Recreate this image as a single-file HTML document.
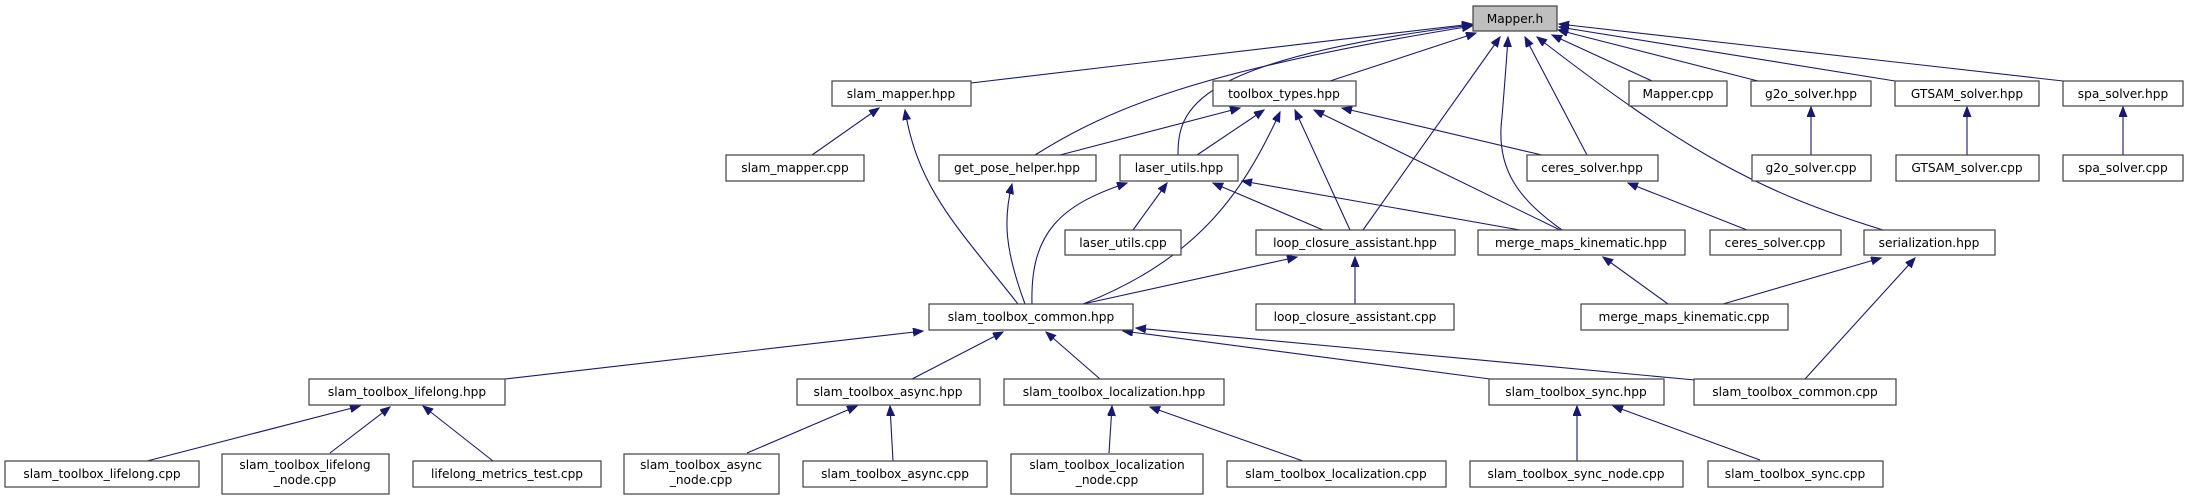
<!DOCTYPE html>
<html><head><meta charset="utf-8"><style>
html,body{margin:0;padding:0;background:#fff;}
svg{display:block;}
text{font-family:"DejaVu Sans","Liberation Sans",sans-serif;font-size:12.2px;fill:#000;text-anchor:middle;}
.b{fill:#fff;stroke:#404040;stroke-width:1.2;}
.e{fill:none;stroke:#191970;stroke-width:1.1;}
</style></head><body>
<svg width="2188" height="500" viewBox="0 0 2188 500" xmlns="http://www.w3.org/2000/svg">
<defs>
<marker id="a" markerUnits="userSpaceOnUse" markerWidth="12" markerHeight="10" refX="10" refY="4" orient="auto">
<path d="M0,0 L10,4 L0,8 Z" fill="#191970" stroke="#191970" stroke-width="1"/>
</marker>
</defs>
<g class="edges">
<!-- to Mapper.h -->
<path class="e" marker-end="url(#a)" d="M971,83 L1472,24"/>
<path class="e" marker-end="url(#a)" d="M1035,155 C1110,108 1200,70 1472,26"/>
<path class="e" marker-end="url(#a)" d="M1178,155 C1178,110 1190,60 1472,25"/>
<path class="e" marker-end="url(#a)" d="M1330,81 L1476,33"/>
<path class="e" marker-end="url(#a)" d="M1363,230 L1500,37"/>
<path class="e" marker-end="url(#a)" d="M1562,230 C1520,200 1495,170 1502,117 C1505,80 1507,55 1508,37"/>
<path class="e" marker-end="url(#a)" d="M1587,155 L1525,37"/>
<path class="e" marker-end="url(#a)" d="M1883,230 C1760,192 1687,153 1537,37"/>
<path class="e" marker-end="url(#a)" d="M1652,81 L1552,35"/>
<path class="e" marker-end="url(#a)" d="M1758,81 L1558,30"/>
<path class="e" marker-end="url(#a)" d="M1895,81 L1559,27"/>
<path class="e" marker-end="url(#a)" d="M2063,81 L1559,24"/>
<!-- to toolbox_types.hpp -->
<path class="e" marker-end="url(#a)" d="M1060,155 L1240,108"/>
<path class="e" marker-end="url(#a)" d="M1197,155 L1264,110"/>
<path class="e" marker-end="url(#a)" d="M1083,304 C1193,260 1240,200 1280,112"/>
<path class="e" marker-end="url(#a)" d="M1350,230 L1295,110"/>
<path class="e" marker-end="url(#a)" d="M1560,230 L1314,110"/>
<path class="e" marker-end="url(#a)" d="M1542,155 L1342,108"/>
<!-- to laser_utils.hpp -->
<path class="e" marker-end="url(#a)" d="M1133,230 L1167,183"/>
<path class="e" marker-end="url(#a)" d="M1032,304 C1030,233 1060,205 1127,183"/>
<path class="e" marker-end="url(#a)" d="M1323,230 L1213,183"/>
<path class="e" marker-end="url(#a)" d="M1520,230 L1242,181"/>
<!-- slam_mapper.hpp -->
<path class="e" marker-end="url(#a)" d="M812,155 L879,108"/>
<path class="e" marker-end="url(#a)" d="M1018,304 C960,230 918,190 905,110"/>
<!-- get_pose_helper -->
<path class="e" marker-end="url(#a)" d="M1025,304 C1005,250 1003,220 1012,184"/>
<!-- loop_closure_assistant.hpp -->
<path class="e" marker-end="url(#a)" d="M1083,304 L1297,257"/>
<path class="e" marker-end="url(#a)" d="M1355,304 L1355,257"/>
<!-- merge_maps / ceres / serialization / solvers -->
<path class="e" marker-end="url(#a)" d="M1668,304 L1603,257"/>
<path class="e" marker-end="url(#a)" d="M1747,230 L1628,183"/>
<path class="e" marker-end="url(#a)" d="M1723,304 L1881,258"/>
<path class="e" marker-end="url(#a)" d="M1805,379 L1915,258"/>
<path class="e" marker-end="url(#a)" d="M1811,155 L1811,107"/>
<path class="e" marker-end="url(#a)" d="M1967,155 L1967,107"/>
<path class="e" marker-end="url(#a)" d="M2123,155 L2123,107"/>
<!-- to slam_toolbox_common.hpp -->
<path class="e" marker-end="url(#a)" d="M505,379 L923,331"/>
<path class="e" marker-end="url(#a)" d="M912,379 L1003,332"/>
<path class="e" marker-end="url(#a)" d="M1100,379 L1046,332"/>
<path class="e" marker-end="url(#a)" d="M1490,379 L1123,331"/>
<path class="e" marker-end="url(#a)" d="M1695,380 L1136,328"/>
<!-- bottom -->
<path class="e" marker-end="url(#a)" d="M147,461 L360,406"/>
<path class="e" marker-end="url(#a)" d="M330,453 L390,407"/>
<path class="e" marker-end="url(#a)" d="M493,461 L423,406"/>
<path class="e" marker-end="url(#a)" d="M747,453 L857,406"/>
<path class="e" marker-end="url(#a)" d="M893,461 L890,406"/>
<path class="e" marker-end="url(#a)" d="M1109,453 L1112,406"/>
<path class="e" marker-end="url(#a)" d="M1303,461 L1150,407"/>
<path class="e" marker-end="url(#a)" d="M1577,461 L1577,406"/>
<path class="e" marker-end="url(#a)" d="M1760,460 L1613,406"/>
</g>
<g class="nodes">
<rect x="1473" y="6" width="84" height="25" fill="#bfbfbf" stroke="#404040" stroke-width="1.2"/><text x="1515" y="23">Mapper.h</text>

<rect class="b" x="832" y="81" width="139" height="25"/><text x="901" y="98">slam_mapper.hpp</text>
<rect class="b" x="1213" y="81" width="143" height="25"/><text x="1284" y="98">toolbox_types.hpp</text>
<rect class="b" x="1629" y="81" width="98" height="25"/><text x="1678" y="98">Mapper.cpp</text>
<rect class="b" x="1751" y="81" width="120" height="25"/><text x="1811" y="98">g2o_solver.hpp</text>
<rect class="b" x="1895" y="81" width="144" height="25"/><text x="1967" y="98">GTSAM_solver.hpp</text>
<rect class="b" x="2063" y="81" width="120" height="25"/><text x="2123" y="98">spa_solver.hpp</text>

<rect class="b" x="726" y="155" width="138" height="26"/><text x="795" y="172">slam_mapper.cpp</text>
<rect class="b" x="939" y="155" width="157" height="26"/><text x="1017" y="172">get_pose_helper.hpp</text>
<rect class="b" x="1120" y="155" width="118" height="26"/><text x="1179" y="172">laser_utils.hpp</text>
<rect class="b" x="1527" y="155" width="131" height="26"/><text x="1592" y="172">ceres_solver.hpp</text>
<rect class="b" x="1752" y="155" width="119" height="26"/><text x="1811" y="172">g2o_solver.cpp</text>
<rect class="b" x="1896" y="155" width="143" height="26"/><text x="1967" y="172">GTSAM_solver.cpp</text>
<rect class="b" x="2063" y="155" width="120" height="26"/><text x="2123" y="172">spa_solver.cpp</text>

<rect class="b" x="1065" y="230" width="116" height="25"/><text x="1123" y="247">laser_utils.cpp</text>
<rect class="b" x="1256" y="230" width="199" height="25"/><text x="1355" y="247">loop_closure_assistant.hpp</text>
<rect class="b" x="1478" y="230" width="207" height="25"/><text x="1581" y="247">merge_maps_kinematic.hpp</text>
<rect class="b" x="1710" y="230" width="131" height="25"/><text x="1775" y="247">ceres_solver.cpp</text>
<rect class="b" x="1864" y="230" width="131" height="25"/><text x="1929" y="247">serialization.hpp</text>

<rect class="b" x="929" y="304" width="204" height="26"/><text x="1031" y="321">slam_toolbox_common.hpp</text>
<rect class="b" x="1256" y="304" width="198" height="26"/><text x="1355" y="321">loop_closure_assistant.cpp</text>
<rect class="b" x="1581" y="304" width="207" height="26"/><text x="1684" y="321">merge_maps_kinematic.cpp</text>

<rect class="b" x="309" y="379" width="196" height="26"/><text x="407" y="396">slam_toolbox_lifelong.hpp</text>
<rect class="b" x="797" y="379" width="183" height="26"/><text x="888" y="396">slam_toolbox_async.hpp</text>
<rect class="b" x="1004" y="379" width="220" height="26"/><text x="1114" y="396">slam_toolbox_localization.hpp</text>
<rect class="b" x="1489" y="379" width="175" height="26"/><text x="1576" y="396">slam_toolbox_sync.hpp</text>
<rect class="b" x="1694" y="379" width="202" height="26"/><text x="1795" y="396">slam_toolbox_common.cpp</text>

<rect class="b" x="5" y="461" width="194" height="26"/><text x="102" y="478">slam_toolbox_lifelong.cpp</text>
<rect class="b" x="222" y="454" width="167" height="40"/><text x="305" y="469">slam_toolbox_lifelong</text><text x="305" y="484">_node.cpp</text>
<rect class="b" x="413" y="461" width="188" height="26"/><text x="507" y="478">lifelong_metrics_test.cpp</text>
<rect class="b" x="624" y="454" width="155" height="40"/><text x="701" y="469">slam_toolbox_async</text><text x="701" y="484">_node.cpp</text>
<rect class="b" x="803" y="461" width="184" height="26"/><text x="895" y="478">slam_toolbox_async.cpp</text>
<rect class="b" x="1011" y="454" width="192" height="40"/><text x="1107" y="469">slam_toolbox_localization</text><text x="1107" y="484">_node.cpp</text>
<rect class="b" x="1227" y="461" width="219" height="26"/><text x="1336" y="478">slam_toolbox_localization.cpp</text>
<rect class="b" x="1470" y="461" width="213" height="26"/><text x="1576" y="478">slam_toolbox_sync_node.cpp</text>
<rect class="b" x="1708" y="461" width="175" height="26"/><text x="1795" y="478">slam_toolbox_sync.cpp</text>
</g>
</svg>
</body></html>
